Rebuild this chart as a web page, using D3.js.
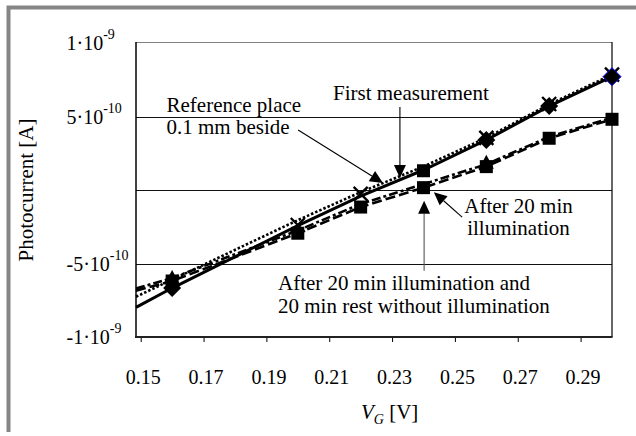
<!DOCTYPE html>
<html>
<head>
<meta charset="utf-8">
<script src="https://cdn.jsdelivr.net/npm/d3@7"></script>
<style>
  body { margin: 0; background: #fff; }
  text { font-family: "Liberation Serif", "Times New Roman", serif; fill: #000; }
</style>
</head>
<body>
<svg id="chart" width="636" height="436"></svg>
<script>
// --- axis values ---
var vgTicks = [0.15, 0.17, 0.19, 0.21, 0.23, 0.25, 0.27, 0.29];
var vgTickLabels = ["0.15", "0.17", "0.19", "0.21", "0.23", "0.25", "0.27", "0.29"];
var iGrid = [5e-10, 0, -5e-10];
var iLabelValues = [1e-9, 5e-10, -5e-10, -1e-9];
var iLabelMantissa = ["1\u00b710", "5\u00b710", "-5\u00b710", "-1\u00b710"];
var iLabelExponent = ["-9", "-10", "-10", "-9"];

// --- curves (first value is where they leave the left edge) ---
var lineVg        = [0.1485, 0.16, 0.20, 0.22, 0.24, 0.26, 0.28, 0.30];
var firstLine     = [-7.98e-10, -6.67e-10, -2.42e-10, -0.42e-10, 1.36e-10, 3.40e-10, 5.71e-10, 7.71e-10];
var referenceLine = [-7.26e-10, -6.10e-10, -2.05e-10, -0.15e-10, 1.60e-10, 3.55e-10, 5.82e-10, 7.85e-10];
var after20Line   = [-6.85e-10, -6.19e-10, -2.94e-10, -1.16e-10, 0.16e-10, 1.59e-10, 3.52e-10, 4.81e-10];
var afterRestLine = [-6.70e-10, -5.99e-10, -2.75e-10, -0.95e-10, 0.40e-10, 1.75e-10, 3.62e-10, 4.92e-10];

// --- markers ---
var diamondVg  = [0.16, 0.26, 0.28, 0.30];
var diamondI   = [-6.67e-10, 3.40e-10, 5.71e-10, 7.71e-10];
var crossVg    = [0.20, 0.22, 0.26, 0.28, 0.30];
var crossI     = [-2.38e-10, -0.27e-10, 3.55e-10, 5.85e-10, 7.85e-10];
var squareVg   = [0.16, 0.20, 0.22, 0.24, 0.24, 0.26, 0.28, 0.30];
var squareI    = [-6.19e-10, -2.94e-10, -1.16e-10, 0.16e-10, 1.31e-10, 1.59e-10, 3.52e-10, 4.81e-10];
var triangleVg = [0.16, 0.26];
var triangleI  = [-5.99e-10, 1.85e-10];

// --- annotation arrows (tail -> tip, in data units) ---
var arrowFromVg = [0.2001, 0.2325, 0.2523, 0.2402];
var arrowFromI  = [4.08e-10, 5.65e-10, -1.84e-10, -5.50e-10];
var arrowToVg   = [0.2271, 0.2325, 0.2433, 0.2402];
var arrowToI    = [0.48e-10, 0.82e-10, -0.15e-10, -0.73e-10];

var svg = d3.select("#chart");
var pLeft = 136, pRight = 612, pTop = 43, pBottom = 337;

var x = d3.scaleLinear().domain([0.1485, 0.30]).range([pLeft, pRight]);
var y = d3.scaleLinear().domain([-1e-9, 1e-9]).range([pBottom, pTop]);

// outer frame
svg.append("path")
  .attr("d", "M8.5,432V7.5H636")
  .attr("fill", "none")
  .attr("stroke", "#858585")
  .attr("stroke-width", 4);

// grid
svg.selectAll("line.grid").data(iGrid).enter().append("line")
  .attr("class", "grid")
  .attr("x1", pLeft).attr("x2", pRight)
  .attr("y1", function(d){ return Math.round(y(d)) + 0.5; })
  .attr("y2", function(d){ return Math.round(y(d)) + 0.5; })
  .attr("stroke", "#111").attr("stroke-width", 1);

// plot frame
svg.append("line").attr("x1", pLeft).attr("x2", pRight).attr("y1", pTop - 0.5).attr("y2", pTop - 0.5)
  .attr("stroke", "#808080").attr("stroke-width", 1);
svg.append("line").attr("x1", pRight).attr("x2", pRight).attr("y1", pTop - 1).attr("y2", pBottom)
  .attr("stroke", "#000").attr("stroke-width", 1.2);
svg.append("line").attr("x1", pLeft).attr("x2", pLeft).attr("y1", pTop - 1).attr("y2", pBottom)
  .attr("stroke", "#000").attr("stroke-width", 1.5);
svg.append("line").attr("x1", pLeft - 1).attr("x2", pRight + 0.5).attr("y1", pBottom).attr("y2", pBottom)
  .attr("stroke", "#222").attr("stroke-width", 2);

// x axis
var xAxis = d3.axisBottom(x)
  .tickValues(vgTicks)
  .tickFormat(function(d, i){ return vgTickLabels[i]; })
  .tickSizeInner(4).tickSizeOuter(0).tickPadding(28);
var gx = svg.append("g").attr("transform", "translate(0," + (pBottom + 1) + ")").call(xAxis);
gx.select(".domain").remove();
gx.selectAll(".tick line").attr("stroke", "#000");
gx.selectAll(".tick text")
  .attr("font-size", 20)
  .attr("font-family", "Liberation Serif")
  .attr("dx", 2);

// y labels
var yl = svg.selectAll("text.ylab").data(iLabelValues).enter().append("text")
  .attr("class", "ylab")
  .attr("x", 66.5)
  .attr("y", function(d){ return y(d) + 7; })
  .attr("font-size", 20);
yl.append("tspan").text(function(d, i){ return iLabelMantissa[i]; });
yl.append("tspan").attr("dy", -11).attr("font-size", 14)
  .text(function(d, i){ return iLabelExponent[i]; });

// axis titles
svg.append("text")
  .attr("transform", "translate(33,190) rotate(-90)")
  .attr("text-anchor", "middle")
  .attr("font-size", 21)
  .text("Photocurrent [A]");

var xt = svg.append("text").attr("x", 361).attr("y", 419).attr("font-size", 21);
xt.append("tspan").attr("font-style", "italic").text("V");
xt.append("tspan").attr("font-style", "italic").attr("font-size", 14).attr("dy", 5).text("G");
xt.append("tspan").attr("dy", -5).text(" [V]");

// curves
var line = d3.line()
  .x(function(d){ return x(d[0]); })
  .y(function(d){ return y(d[1]); });

var curves = [
  { v: after20Line,   dash: "10,4",    w: 2.6 },
  { v: afterRestLine, dash: "9,3,3,3", w: 2.6 },
  { v: referenceLine, dash: "2.5,2",   w: 2.6 },
  { v: firstLine,     dash: null,      w: 3 }
];
curves.forEach(function(c){
  svg.append("path")
    .datum(lineVg.map(function(v, i){ return [v, c.v[i]]; }))
    .attr("d", line)
    .attr("fill", "none")
    .attr("stroke", "#000")
    .attr("stroke-width", c.w)
    .attr("stroke-dasharray", c.dash);
});

// markers
function pts(vs, is){ return vs.map(function(v, i){ return [v, is[i]]; }); }

svg.selectAll("path.tri").data(pts(triangleVg, triangleI)).enter().append("path")
  .attr("class", "tri")
  .attr("d", "M0,-8L7.5,6L-7.5,6Z")
  .attr("transform", function(d){ return "translate(" + x(d[0]) + "," + y(d[1]) + ")"; })
  .attr("fill", "#000");

svg.selectAll("rect.sq").data(pts(squareVg, squareI)).enter().append("rect")
  .attr("class", "sq")
  .attr("x", function(d){ return x(d[0]) - 6.5; })
  .attr("y", function(d){ return y(d[1]) - 6.5; })
  .attr("width", 13).attr("height", 13)
  .attr("fill", "#000");

svg.selectAll("path.cross").data(pts(crossVg, crossI)).enter().append("path")
  .attr("class", "cross")
  .attr("d", "M-7,-7L7,7M7,-7L-7,7")
  .attr("transform", function(d){ return "translate(" + x(d[0]) + "," + y(d[1]) + ")"; })
  .attr("stroke", "#000").attr("stroke-width", 2.4).attr("fill", "none");

svg.selectAll("path.dia").data(pts(diamondVg, diamondI)).enter().append("path")
  .attr("class", "dia")
  .attr("d", "M0,-9L9,0L0,9L-9,0Z")
  .attr("transform", function(d){ return "translate(" + x(d[0]) + "," + y(d[1]) + ")"; })
  .attr("fill", "#000")
  .attr("stroke", function(d, i){ return i === diamondVg.length - 1 ? "#0000ff" : "none"; })
  .attr("stroke-width", 1);

// annotation arrows
arrowFromVg.forEach(function(v, i){
  var x1 = x(v), y1 = y(arrowFromI[i]), x2 = x(arrowToVg[i]), y2 = y(arrowToI[i]);
  var a = Math.atan2(y2 - y1, x2 - x1), len = 13, hw = 6;
  var bx = x2 - len * Math.cos(a), by = y2 - len * Math.sin(a);
  svg.append("line").attr("x1", x1).attr("y1", y1).attr("x2", bx).attr("y2", by)
    .attr("stroke", i === 3 ? "#555" : "#000").attr("stroke-width", 1.1);
  svg.append("path")
    .attr("d", "M" + x2 + "," + y2 +
      "L" + (bx + hw * Math.sin(a)) + "," + (by - hw * Math.cos(a)) +
      "L" + (bx - hw * Math.sin(a)) + "," + (by + hw * Math.cos(a)) + "Z")
    .attr("fill", "#000");
});

// annotation texts
function label(lines, lx, ly, anchor, gap){
  var t = svg.append("text").attr("font-size", 21).attr("text-anchor", anchor);
  lines.forEach(function(s, i){
    t.append("tspan").attr("x", lx).attr("y", ly + i * gap).text(s);
  });
}
label(["Reference place", "0.1 mm beside"], 166.5, 111.5, "start", 22.5);
label(["First measurement"], 333, 99.5, "start", 0);
label(["After 20 min", "illumination"], 518.5, 213, "middle", 22);
label(["After 20 min illumination and", "20 min rest without illumination"], 278, 290, "start", 22.5);
</script>
</body>
</html>
